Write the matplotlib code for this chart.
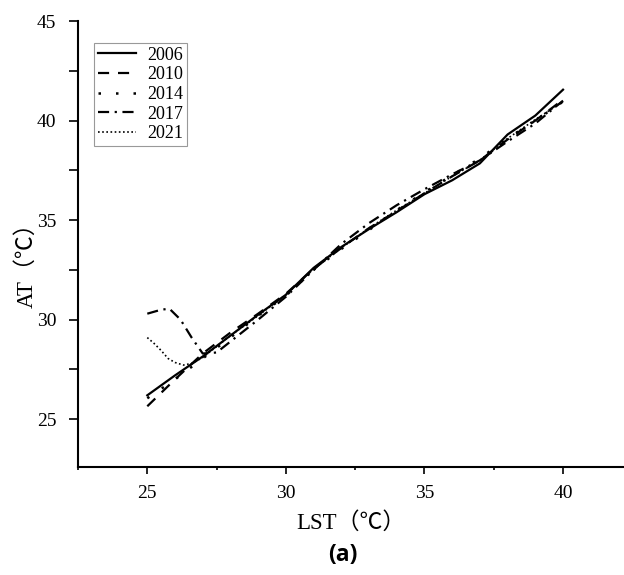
import matplotlib
matplotlib.use('Agg')
from matplotlib import pyplot as plt
from matplotlib.ticker import MultipleLocator

plt.rcParams['font.family'] = ['Liberation Serif', 'Noto Sans CJK SC']

# LST (x) and AT (y) values
lst_2006 = [25, 26, 27, 28, 29, 30, 31, 32, 33, 34, 35, 36, 37, 38, 39, 40]
at_2006 = [26.2, 27.2, 28.15, 29.2, 30.25, 31.25, 32.6, 33.65, 34.55, 35.4,
           36.3, 37.0, 37.85, 39.3, 40.25, 41.55]

lst_2010 = [25, 26, 27, 28, 29, 30, 31, 32, 33, 34, 35, 36, 37, 38, 39, 40]
at_2010 = [25.65, 27.0, 28.3, 29.35, 30.3, 31.3, 32.55, 33.6, 34.6, 35.45,
           36.35, 37.2, 38.0, 39.05, 40.0, 41.05]

lst_2014 = [25, 26, 27, 28, 29, 30, 31, 32, 33, 34, 35, 36, 37, 38, 39, 40]
at_2014 = [26.05, 27.0, 28.05, 29.1, 30.2, 31.2, 32.5, 33.55, 34.5, 35.5,
           36.4, 37.25, 38.1, 39.1, 40.0, 40.95]

lst_2017 = [25, 25.5, 25.8, 26.2, 26.6, 27.0, 27.5, 28, 29, 30, 31, 32, 33,
            34, 35, 36, 37, 38, 39, 40]
at_2017 = [30.3, 30.5, 30.55, 30.0, 29.1, 28.3, 28.35, 28.9, 30.0, 31.15,
           32.5, 33.8, 34.85, 35.75, 36.55, 37.3, 38.0, 38.95, 39.85, 41.0]

lst_2021 = [25, 25.25, 25.5, 25.75, 26, 26.3, 26.6, 27, 28, 29, 30, 31, 32,
            33, 34, 35, 36, 37, 38, 39, 40]
at_2021 = [29.1, 28.8, 28.45, 28.05, 27.85, 27.72, 27.8, 28.1, 29.2, 30.2,
           31.25, 32.55, 33.6, 34.6, 35.5, 36.35, 37.2, 38.0, 39.1, 40.05, 40.95]

series = [
    ('2006', lst_2006, at_2006, dict(ls='-', lw=1.6)),
    ('2010', lst_2010, at_2010, dict(ls=(0, (5, 4)), lw=1.6)),
    ('2014', lst_2014, at_2014, dict(ls=(0, (1, 6)), lw=1.8)),
    ('2017', lst_2017, at_2017, dict(ls=(0, (5, 2.5, 1, 2.5)), lw=1.6)),
    ('2021', lst_2021, at_2021, dict(ls=(0, (1, 1.5)), lw=1.2)),
]

fig = plt.figure(figsize=(6.24, 5.75), dpi=100)
ax = fig.add_axes([78/624, 1 - 467/575, 546/624, 446/575])

for label, x, y, style in series:
    ax.plot(x, y, color='black', label=label, **style)

ax.set_xlim(22.5, 42.2)
ax.set_ylim(22.6, 45)
ax.xaxis.set_major_locator(MultipleLocator(5))
ax.xaxis.set_minor_locator(MultipleLocator(2.5))
ax.yaxis.set_major_locator(MultipleLocator(5))
ax.yaxis.set_minor_locator(MultipleLocator(2.5))

for s in ['top', 'right']:
    ax.spines[s].set_visible(False)
for s in ['left', 'bottom']:
    ax.spines[s].set_linewidth(1.5)

ax.tick_params(axis='x', which='major', direction='out', length=5, width=1.2,
               pad=8, labelsize=14)
ax.tick_params(axis='x', which='minor', direction='out', length=2.5, width=1.2)
ax.tick_params(axis='y', which='major', direction='out', length=6.5, width=1.2,
               pad=9, labelsize=14)
ax.tick_params(axis='y', which='minor', direction='out', length=6.5, width=1.2)

ax.set_xlabel('LST（℃）', fontsize=16.5)
ax.xaxis.set_label_coords(0.5, -(523 - 467) / 446, transform=ax.transAxes)
ax.set_ylabel('AT（℃）', fontsize=16.5)
ax.yaxis.set_label_coords(-(78 - 27) / 546, (467 - 260) / 446)
ax.xaxis.label.set_va('center')
ax.yaxis.label.set_va('center')

leg = ax.legend(loc='upper left', bbox_to_anchor=(94/624, 1 - 43/575),
                bbox_transform=fig.transFigure, fontsize=13, frameon=True,
                fancybox=False, borderaxespad=0, borderpad=0.2,
                handlelength=2.15, handletextpad=0.6, labelspacing=0.15)
leg.get_frame().set_edgecolor('#808080')
leg.get_frame().set_linewidth(0.8)

fig.text(343/624, 1 - 555/575, '(a)', fontsize=16.5, fontweight='bold',
         family='Open Sans', ha='center', va='center')

fig.savefig('out.png', dpi=100)
